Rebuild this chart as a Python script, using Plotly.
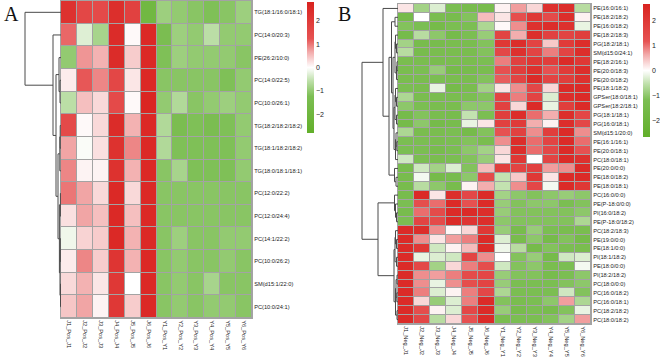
import plotly.graph_objects as go

W, H = 660, 363

# ---------------- Panel A data ----------------
cols_A = ["J1_Pos_J1", "J2_Pos_J2", "J3_Pos_J3", "J4_Pos_J4", "J5_Pos_J5", "J6_Pos_J6",
          "Y1_Pos_Y1", "Y2_Pos_Y2", "Y3_Pos_Y3", "Y4_Pos_Y4", "Y5_Pos_Y5", "Y6_Pos_Y6"]
rows_A = ["TG(18:1/16:0/18:1)", "PC(14:0/20:3)", "PE(26:2/10:0)", "PC(14:0/22:5)",
          "PC(10:0/26:1)", "TG(18:2/18:2/18:2)", "TG(18:1/18:2/18:2)", "TG(18:0/18:1/18:1)",
          "PC(12:0/22:2)", "PC(12:0/24:4)", "PC(14:1/22:2)", "PC(10:0/26:2)",
          "SM(d15:1/22:0)", "PC(10:0/24:1)"]
z_A = [
    [2.3, 1.6, 1.5, 2.4, 1.8, -1.9, -0.9, -1.0, -1.1, -1.2, -1.1, -0.9],
    [1.1, -0.3, -0.8, 2.5, 0.05, 2.6, -1.3, -0.9, -1.0, -0.6, -1.0, -1.0],
    [-1.0, 0.8, 0.6, 2.5, 0.4, 2.6, -1.2, -0.9, -1.0, -1.0, -1.0, -1.1],
    [0.15, 1.2, 0.9, 1.6, 0.2, 2.6, -1.1, -1.1, -1.1, -1.1, -1.2, -1.0],
    [-0.6, 0.5, 0.3, 1.5, 0.05, 2.7, -1.0, -0.7, -1.1, -1.0, -0.9, -1.0],
    [1.5, 0.05, 0.3, 2.5, 0.6, 2.6, -0.7, -1.3, -1.2, -1.3, -1.2, -1.0],
    [0.7, -0.05, 0.25, 2.3, 0.9, 2.6, -0.7, -1.2, -1.2, -1.2, -1.2, -1.0],
    [0.9, 0.1, 0.1, 2.3, 0.6, 2.6, -1.1, -0.8, -1.2, -1.2, -1.2, -1.0],
    [1.0, 0.7, 0.3, 2.6, 0.3, 2.6, -1.1, -1.1, -1.1, -1.1, -1.1, -1.1],
    [0.25, 0.7, 0.5, 2.6, 0.5, 2.6, -1.1, -1.1, -1.1, -1.1, -1.1, -1.1],
    [-0.15, 0.35, 0.4, 2.6, 0.6, 2.6, -1.1, -0.9, -1.1, -1.1, -1.0, -1.0],
    [0.15, 0.9, 0.4, 2.2, 0.6, 2.6, -1.1, -1.0, -1.1, -1.1, -1.0, -1.1],
    [0.3, 0.6, 0.2, 2.1, 0.0, 2.6, -1.1, -1.0, -1.1, -0.8, -1.1, -1.1],
    [0.45, 0.7, 0.1, 2.1, 0.4, 2.6, -1.1, -1.0, -1.1, -1.0, -1.0, -1.1],
]
# hierarchical merges (left, right, height); ids >= n are earlier merges
merges_A = [
    (3, 4, 1.0), (2, 14, 2.0), (5, 6, 0.8), (16, 7, 1.2), (8, 9, 0.6),
    (10, 11, 0.7), (12, 13, 0.5), (19, 20, 1.0), (18, 21, 1.6), (17, 22, 3.0),
    (15, 23, 5.0), (1, 24, 8.0), (0, 25, 36.0),
]

# ---------------- Panel B data ----------------
cols_B = ["J1_Neg_J1", "J2_Neg_J2", "J3_Neg_J3", "J4_Neg_J4", "J5_Neg_J5", "J6_Neg_J6",
          "Y1_Neg_Y1", "Y2_Neg_Y2", "Y3_Neg_Y3", "Y4_Neg_Y4", "Y5_Neg_Y5", "Y6_Neg_Y6"]
rows_B = ["PE(16:0/16:1)", "PE(18:2/18:2)", "PE(16:0/18:2)", "PE(18:2/18:3)", "PG(18:2/18:1)",
          "SM(d15:0/24:1)", "PE(18:2/16:1)", "PE(20:0/18:3)", "PE(20:0/18:2)", "PE(18:1/18:2)",
          "GPSer(18:0/18:1)", "GPSer(18:2/18:1)", "PG(18:1/18:1)", "PG(16:0/18:1)",
          "SM(d15:1/20:0)", "PE(16:1/16:1)", "PE(20:0/18:1)", "PC(18:0/18:1)", "PE(20:0/0:0)",
          "PE(18:0/18:2)", "PE(18:0/18:1)", "PC(16:0/0:0)", "PE(P-18:0/0:0)", "PI(16:0/18:2)",
          "PE(P-18:0/18:2)", "PC(18:2/18:3)", "PE(19:0/0:0)", "PE(18:1/0:0)", "PI(18:1/18:2)",
          "PE(18:0/0:0)", "PI(18:2/18:2)", "PC(18:0/0:0)", "PC(16:0/18:2)", "PC(16:0/18:1)",
          "PC(18:2/18:2)", "PC(18:0/18:2)"]
z_B = [
    [0.2, -0.8, -0.3, -1.2, -1.4, -1.4, 0.1, 0.7, 0.3, 2.2, 2.3, -0.6],
    [-1.5, 0.0, -1.3, -1.4, -1.1, 0.5, 0.2, 1.3, 2.0, 1.4, 2.3, 0.1],
    [-1.1, -1.2, -1.5, -1.2, -1.2, -0.7, 0.05, 0.8, 2.2, 2.3, 2.2, -0.2],
    [-1.5, -0.6, -1.0, -1.5, -1.2, -0.9, 1.6, 0.6, 2.3, 1.7, 1.6, 1.8],
    [-0.8, -1.4, -1.4, -1.3, -1.3, -1.1, 2.0, 2.3, 1.6, 0.4, 1.9, 2.3],
    [-0.6, -1.4, -1.3, -1.3, -1.3, -1.1, 1.5, 2.2, 1.6, 0.9, 1.6, 2.3],
    [-1.3, -1.3, -1.3, -1.3, -1.3, -1.2, 0.9, 1.7, 2.0, 1.8, 2.4, 2.0],
    [-1.3, -1.2, -0.9, -1.5, -1.4, -1.3, 1.2, 1.8, 2.2, 1.2, 1.9, 2.3],
    [-1.3, -1.3, -1.2, -1.3, -1.3, -1.1, 1.1, 1.6, 2.4, 1.6, 1.8, 2.2],
    [-1.2, -1.3, -0.2, -1.5, -1.3, -0.8, 0.2, 0.8, 1.5, 0.3, 2.4, 2.4],
    [-0.7, -1.3, -1.3, -1.3, -1.2, -1.1, 1.6, 0.9, 1.6, -0.3, 2.3, 2.4],
    [-1.0, -1.2, -1.3, -1.3, -1.0, -1.0, 1.7, 0.3, 2.4, -0.2, 1.8, 2.4],
    [-1.5, -1.1, -1.3, -1.4, -0.5, -1.2, 1.8, 2.3, 1.0, 0.6, 2.3, 1.5],
    [-1.5, -1.0, -1.5, -1.4, -0.2, 0.2, 1.7, 1.9, 0.6, 0.1, 2.3, 1.5],
    [-0.7, -1.3, -1.3, -1.2, -1.5, -1.1, 1.2, 1.7, 0.8, 1.8, 2.4, 0.8],
    [-1.2, -1.2, -1.3, -1.2, -1.1, -1.3, 0.8, 2.3, 1.0, 1.6, 2.4, 1.0],
    [-1.2, -1.2, -1.4, -1.2, -1.0, -0.8, 0.3, 2.3, 1.0, 1.5, 2.4, 1.2],
    [-0.4, -1.2, -1.3, -1.2, -1.1, -0.9, 0.2, 2.0, 0.0, 1.6, 2.4, 2.2],
    [-1.4, -0.4, -0.8, -0.3, -1.1, 0.5, 1.8, 1.6, 1.7, 0.7, 0.8, 2.4],
    [-1.4, -0.1, -1.5, -1.4, -1.0, 1.4, -0.5, 0.4, 2.0, 0.2, 2.4, 2.4],
    [-1.4, -0.6, -1.0, -1.4, 0.1, 0.6, -0.5, 0.8, 1.5, -0.1, 2.4, 2.0],
    [-1.4, 2.4, 0.2, 2.3, 1.5, 2.4, -0.8, -1.0, -1.1, -1.0, -0.9, -1.0],
    [-1.2, 1.3, 1.0, 2.4, 1.2, 2.4, -0.9, -1.1, -1.0, -1.0, -1.2, -1.1],
    [-1.4, 1.0, 1.4, 2.4, 2.4, 2.3, -0.9, -1.1, -1.1, -1.1, -1.1, -1.0],
    [-1.2, 1.6, 1.4, 2.4, 2.1, 2.3, -1.0, -1.1, -1.1, -1.1, -1.1, -0.7],
    [2.4, 2.3, 0.8, 0.05, 0.3, 2.0, -0.9, -1.4, -0.9, -1.2, -1.3, -1.3],
    [2.4, 0.8, 0.2, 0.7, 0.9, 2.4, -0.3, -1.4, -1.0, -1.5, -1.1, -1.5],
    [2.4, 2.0, -0.4, 0.1, 0.5, 2.4, -0.15, -0.6, -1.5, -1.1, -1.2, -1.3],
    [2.4, -0.2, -0.3, -0.4, 1.6, 0.8, 0.0, -1.1, -0.9, -1.5, -0.4, -0.3],
    [2.4, 1.5, -0.8, 0.3, 0.9, 1.3, -0.4, -1.1, -1.0, -1.3, -1.2, -0.1],
    [2.4, 0.8, 0.7, 0.9, 1.4, 1.5, -0.9, -1.1, -1.1, -1.4, -1.2, -1.0],
    [2.4, 0.8, -0.2, 0.8, 1.3, 1.6, -0.9, -1.2, -1.2, -1.2, -1.1, -1.0],
    [2.4, 0.9, -0.3, 0.1, 0.9, 1.5, -0.7, -1.2, -1.2, -1.2, -0.4, -1.1],
    [2.4, 0.3, -0.9, -0.3, 0.9, 2.4, -1.1, -1.3, -1.2, -1.0, 0.7, -0.7],
    [2.4, 1.3, 0.1, -0.3, 1.5, 2.4, -0.9, -1.4, -1.2, -1.4, -1.1, -0.2],
    [2.4, 1.5, -0.6, 0.3, 1.2, 2.4, -1.3, -1.2, -1.2, -1.1, -0.8, 0.7],
]
merges_B = [
    (1, 2, 3.0), (4, 5, 1.5), (3, 37, 2.5), (6, 7, 1.0), (39, 8, 1.5),
    (38, 40, 3.0), (10, 11, 1.5), (9, 42, 2.5), (12, 13, 1.5), (43, 44, 3.0),
    (15, 16, 1.2), (14, 46, 2.0), (47, 17, 2.5), (45, 48, 4.0), (41, 49, 5.0),
    (36, 50, 6.5), (19, 20, 2.0), (18, 52, 3.5), (51, 53, 9.0), (0, 54, 15.0),
    (23, 24, 1.5), (22, 56, 2.5), (21, 57, 3.5), (26, 27, 1.5), (25, 59, 2.5),
    (28, 29, 1.5), (60, 61, 3.0), (30, 31, 1.0), (32, 33, 1.2), (63, 64, 2.0),
    (34, 35, 1.0), (65, 66, 2.5), (62, 67, 4.0), (58, 68, 20.0), (55, 69, 36.0),
]

colorscale = [
    [0.00, "#62AF2A"], [0.28, "#7CBE53"], [0.40, "#BFE0AB"], [0.47, "#EEF6E9"],
    [0.50, "#FFFFFF"], [0.54, "#FBE3E3"], [0.62, "#F2A9A9"], [0.72, "#E65252"],
    [1.00, "#D9231F"],
]
GRID = "#A3A3A3"
LABEL_FONT = dict(family="Liberation Sans, Arial", size=5.7, color="#222222")


def dendro_lines(merges, n):
    pos = {i: float(i) for i in range(n)}
    hgt = {i: 0.0 for i in range(n)}
    xs, ys = [], []
    for k, (a, b, h) in enumerate(merges):
        xs += [hgt[a], h, h, hgt[b], None]
        ys += [pos[a], pos[a], pos[b], pos[b], None]
        pos[n + k] = (pos[a] + pos[b]) / 2
        hgt[n + k] = h
    return xs, ys


def px(v):
    return v / W


def py(v):  # from top, pixels -> paper
    return 1 - v / H


fig = go.Figure()

panels = [
    dict(c=cols_A, r=rows_A, z=z_A, m=merges_A, hx=(61, 252), hy=(1, 318), dx0=0,
         zl=2.8, cbx=307, cblen=131, cbtop=2, lx=3, letter="A", ax=("x", "y", "x2")),
    dict(c=cols_B, r=rows_B, z=z_B, m=merges_B, hx=(398, 591), hy=(4, 324), dx0=340,
         zl=2.65, cbx=643, cblen=133, cbtop=4, lx=337, letter="B", ax=("x3", "y3", "x4")),
]

layout = dict(width=W, height=H,
              margin=dict(l=0, r=0, t=0, b=0, pad=0, autoexpand=False),
              paper_bgcolor="white", plot_bgcolor="white", showlegend=False)
shapes, annotations = [], []

for p in panels:
    xa, ya, xd = p["ax"]
    n = len(p["r"])
    fig.add_trace(go.Heatmap(
        z=p["z"], x=list(range(len(p["c"]))), y=list(range(n)),
        colorscale=colorscale, zmin=-p["zl"], zmax=p["zl"], xgap=1, ygap=1,
        xaxis=xa, yaxis=ya, hoverinfo="skip",
        colorbar=dict(x=px(p["cbx"]), xanchor="left", xref="paper",
                      y=py(p["cbtop"]), yanchor="top", yref="paper",
                      lenmode="pixels", len=p["cblen"], thicknessmode="pixels", thickness=7,
                      xpad=0, ypad=0, outlinewidth=0, tickvals=[-2, -1, 0, 1, 2],
                      ticks="", ticklabelposition="outside",
                      tickfont=dict(family="Liberation Sans, Arial", size=7, color="#222222")),
    ))
    dxs, dys = dendro_lines(p["m"], n)
    fig.add_trace(go.Scatter(x=dxs, y=dys, mode="lines", xaxis=xd, yaxis=ya,
                             line=dict(color="#4a4a4a", width=1), hoverinfo="skip"))

    xk = "xaxis" + xa[1:]
    yk = "yaxis" + ya[1:]
    dk = "xaxis" + xd[1:]
    layout[xk] = dict(domain=[px(p["hx"][0]), px(p["hx"][1])], anchor=ya,
                      range=[-0.5, len(p["c"]) - 0.5], tickmode="array",
                      tickvals=list(range(len(p["c"]))), ticktext=p["c"], tickangle=90,
                      ticks="", showgrid=False, zeroline=False, tickfont=LABEL_FONT,
                      automargin=False,
                      showline=True, mirror=True, linecolor=GRID, linewidth=1)
    layout[yk] = dict(domain=[py(p["hy"][1]), py(p["hy"][0])], anchor=xa,
                      range=[n - 0.5, -0.5], tickmode="array", tickvals=list(range(n)),
                      ticktext=p["r"], side="right", ticks="", showgrid=False,
                      zeroline=False, tickfont=LABEL_FONT, automargin=False,
                      showline=True, mirror=True, linecolor=GRID, linewidth=1)
    layout[dk] = dict(domain=[px(p["dx0"]), px(p["hx"][0])], anchor=ya,
                      range=[p["hx"][0] - p["dx0"], 0], visible=False, showgrid=False,
                      zeroline=False)
    shapes.append(dict(type="rect", xref=xa + " domain", yref=ya + " domain",
                       x0=0, x1=1, y0=0, y1=1, fillcolor=GRID, line=dict(width=0),
                       layer="below"))
    annotations.append(dict(text=p["letter"], xref="paper", yref="paper",
                            x=px(p["lx"]), y=py(14), xanchor="left", yanchor="middle",
                            showarrow=False, borderpad=0,
                            font=dict(family="Liberation Serif, Times New Roman", size=20,
                                      color="#111111")))

layout["shapes"] = shapes
layout["annotations"] = annotations
fig.update_layout(**layout)
fig.write_html("out.html", config={"displayModeBar": False, "staticPlot": True},
               post_script="document.body.style.margin='0';document.body.style.overflow='hidden';")
